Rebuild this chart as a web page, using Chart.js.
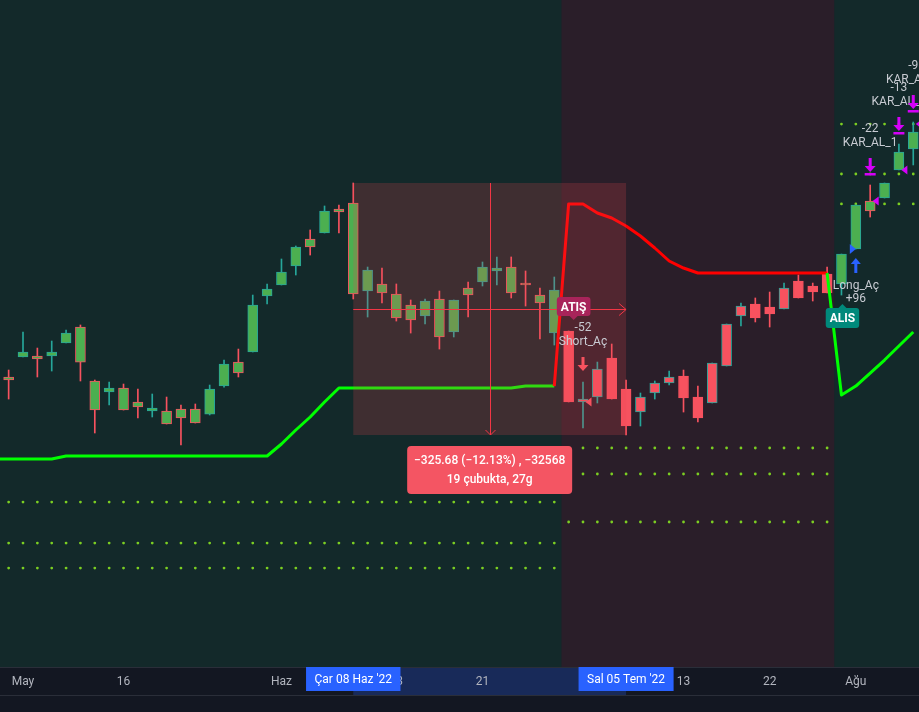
<!DOCTYPE html>
<html><head><meta charset="utf-8">
<script src="https://cdn.jsdelivr.net/npm/chart.js@4.4.0/dist/chart.umd.min.js"></script>
<style>html,body{margin:0;padding:0;background:#131722;overflow:hidden}</style>
</head><body>
<canvas id="c" width="919" height="712"></canvas>
<script>
// ---- data ----
const dates = ['2022-04-28','2022-04-29','2022-05-05','2022-05-06','2022-05-09','2022-05-10','2022-05-11','2022-05-12','2022-05-13','2022-05-16',
'2022-05-17','2022-05-18','2022-05-20','2022-05-23','2022-05-24','2022-05-25','2022-05-26','2022-05-27','2022-05-30','2022-05-31',
'2022-06-01','2022-06-02','2022-06-03','2022-06-06','2022-06-07','2022-06-08','2022-06-09','2022-06-10','2022-06-13','2022-06-14',
'2022-06-15','2022-06-16','2022-06-17','2022-06-20','2022-06-21','2022-06-22','2022-06-23','2022-06-24','2022-06-27','2022-06-28',
'2022-06-29','2022-06-30','2022-07-01','2022-07-04','2022-07-05','2022-07-06','2022-07-07','2022-07-08','2022-07-13','2022-07-14',
'2022-07-18','2022-07-19','2022-07-20','2022-07-21','2022-07-22','2022-07-25','2022-07-26','2022-07-27','2022-07-28','2022-07-29',
'2022-08-01','2022-08-02','2022-08-03','2022-08-04','2022-08-05'];
const openP  = [2461.4,2434.3,2460.1,2461.4,2461.4,2478.2,2498.9,2429.1,2414.9,2420.1,
2402.0,2390.3,2390.3,2392.9,2392.9,2386.4,2422.6,2453.6,2466.6,2539.0,
2553.2,2577.7,2612.6,2620.4,2651.4,2659.1,2545.4,2554.5,2541.5,2527.3,
2513.1,2535.1,2492.4,2549.3,2557.0,2571.3,2576.4,2555.7,2540.2,2491.1,
2493.7,2402.0,2408.4,2458.8,2418.8,2389.0,2413.6,2426.5,2435.6,2408.4,
2400.7,2448.5,2513.1,2528.6,2524.7,2522.2,2558.3,2551.9,2567.4,2554.5,
2599.7,2661.7,2665.6,2701.8,2728.9];
const highP  = [2469.2,2443.3,2492.4,2471.7,2480.8,2495.0,2501.5,2430.4,2427.8,2425.2,
2418.8,2412.3,2408.4,2398.1,2399.4,2423.9,2456.2,2470.4,2540.2,2554.5,
2586.8,2603.6,2624.3,2655.3,2656.6,2685.0,2576.4,2575.1,2554.5,2533.8,
2535.1,2545.4,2533.8,2557.0,2582.9,2589.4,2589.4,2571.3,2549.3,2563.5,
2493.7,2427.8,2453.6,2476.9,2430.4,2413.6,2429.1,2442.0,2443.3,2422.6,
2452.4,2502.8,2529.9,2536.4,2544.1,2555.7,2566.1,2555.7,2576.4,2593.2,
2656.6,2682.4,2685.0,2735.4,2763.8];
const lowP   = [2420.1,2405.8,2460.1,2434.3,2442.0,2478.2,2429.1,2361.9,2398.1,2391.6,
2381.3,2382.6,2373.5,2346.4,2374.8,2385.2,2421.3,2434.3,2466.6,2528.6,
2553.2,2566.1,2591.9,2620.4,2620.4,2535.1,2511.8,2529.9,2506.6,2491.1,
2502.8,2470.4,2486.0,2511.8,2551.9,2553.2,2536.4,2526.0,2483.4,2475.6,
2402.0,2368.4,2400.7,2405.8,2359.32,2370.9,2405.8,2423.9,2389.0,2376.1,
2400.7,2448.5,2500.2,2505.4,2498.9,2522.2,2536.4,2532.5,2542.8,2540.2,
2599.7,2641.0,2665.6,2701.8,2708.3];
const closeP = [2427.8,2430.4,2466.6,2457.5,2466.6,2491.1,2453.6,2391.6,2420.1,2391.6,
2395.5,2394.2,2373.5,2381.3,2374.8,2418.8,2451.1,2439.4,2527.3,2548.0,
2570.0,2602.3,2602.3,2648.8,2647.5,2541.5,2572.5,2542.8,2510.5,2507.9,
2532.5,2486.0,2533.8,2540.2,2576.4,2575.1,2542.8,2553.2,2529.9,2546.7,
2402.0,2405.8,2444.6,2405.8,2370.9,2408.4,2426.5,2434.3,2407.1,2381.3,
2452.4,2502.8,2526.0,2510.5,2515.7,2549.3,2536.4,2544.1,2542.8,2593.2,
2656.6,2648.8,2685.0,2725.1,2750.9];
// trailing-stop indicator
const trendLine = [2328.3,2328.3,2328.3,2328.3,2328.3,2332.2,2332.2,2332.2,2332.2,2332.2,
2332.2,2332.2,2332.2,2332.2,2332.2,2332.2,2332.2,2332.2,2332.2,2332.2,
2347.7,2365.8,2382.6,2402.0,2420.1,2420.1,2420.1,2420.1,2420.1,2420.1,
2420.1,2420.1,2420.1,2420.1,2420.1,2420.1,2420.1,2422.6,2422.6,2422.6,
2657.9,2657.9,2646.2,2639.8,2629.4,2616.5,2601.0,2584.2,2575.1,2568.7,
2568.7,2568.7,2568.7,2568.7,2568.7,2568.7,2568.7,2568.7,2568.7,2411.0,
2422.6,2439.4,2456.2,2474.3,2492.4];
const trendDir = dates.map((d,i)=> (i>=40 && i<=58) ? -1 : 1);
// take-profit levels (dotted)
const tpLevel1 = dates.map((d,i)=> i<=39 ? 2272.7 : (i<=58 ? 2342.5 : 2761.2));
const tpLevel2 = dates.map((d,i)=> i<=39 ? 2219.7 : (i<=58 ? 2308.9 : 2696.6));
const tpLevel3 = dates.map((d,i)=> i<=39 ? 2187.4 : (i<=58 ? 2246.9 : 2657.9));
// axis
const tickDates  = ['2022-05-05','2022-05-16','2022-06-01','2022-06-13','2022-06-21','2022-07-01','2022-07-13','2022-07-22','2022-08-01'];
const tickLabels = ['May','16','Haz','13','21','Tem','13','22','Ağu'];
const shortFrom = '2022-06-29', shortTo = '2022-07-28';
const measureFrom = '2022-06-08', measureTo = '2022-07-05';
const measureText = ['\u2212325.68 (\u221212.13%) , \u221232568', '19 çubukta, 27g'];
const axisBadges = [{date:'2022-06-08', text:"Çar 08 Haz '22"}, {date:'2022-07-05', text:"Sal 05 Tem '22"}];
// strategy signals
const signalLabels = [{date:'2022-06-29', text:'ATIŞ', side:'above'}, {date:'2022-07-29', text:'ALIS', side:'below'}];
const orders = [
  {date:'2022-06-30', type:'sell', id:'Short_Aç', qty:'-52', fill:2402.0},
  {date:'2022-08-01', type:'buy',  id:'Long_Aç',  qty:'+96', fill:2599.7},
  {date:'2022-08-02', type:'exit', id:'KAR_AL_1', qty:'-22', fill:2661.7},
  {date:'2022-08-04', type:'exit', id:'KAR_AL_2', qty:'-13', fill:2701.8},
  {date:'2022-08-05', type:'exit', id:'KAR_AL_3', qty:'-9',  fill:2761.2}
];

// ---- styles ----
const C = {
  bg:'#131722', longBg:'#13292a', shortBg:'#2a1e29', axisLine:'#2a2e39',
  bullBorder:'#26a69a', bearBorder:'#f7525f', longFill:'#4caf50', shortFill:'#f7525f',
  up:'#00ff00', down:'#ff0000', dots:'#7ccf22', text:'#c8cbd2',
  blue:'#2962ff', magenta:'#d500f9', red:'#f7525f'
};
const idx = d => dates.indexOf(d);
const iS = idx(shortFrom), iE = idx(shortTo);
const inShort = i => i>=iS && i<=iE;
const isBull = i => closeP[i] >= openP[i];

const bodyData = dates.map((d,i)=>({x:i, y:[openP[i], closeP[i]]}));
const wickData = dates.map((d,i)=>({x:i, y:[lowP[i], highP[i]]}));
const dotSet = arr => arr.map((v,i)=>({x:i,y:v})).filter(p=>p.x>=1);

function roundRect(ctx,x,y,w,h,r){ctx.beginPath();ctx.moveTo(x+r,y);ctx.lineTo(x+w-r,y);ctx.quadraticCurveTo(x+w,y,x+w,y+r);ctx.lineTo(x+w,y+h-r);ctx.quadraticCurveTo(x+w,y+h,x+w-r,y+h);ctx.lineTo(x+r,y+h);ctx.quadraticCurveTo(x,y+h,x,y+h-r);ctx.lineTo(x,y+r);ctx.quadraticCurveTo(x,y,x+r,y);ctx.closePath();}

const bgPlugin = {
  id:'bg',
  beforeDraw(chart){
    const {ctx, chartArea:a, scales:{x}} = chart;
    ctx.save();
    ctx.fillStyle = C.bg; ctx.fillRect(0,0,chart.width,chart.height);
    ctx.fillStyle = C.longBg; ctx.fillRect(a.left,a.top,a.right-a.left,a.bottom-a.top);
    const x0 = x.getPixelForValue(iS-0.5), x1 = x.getPixelForValue(iE+0.5);
    ctx.fillStyle = C.shortBg; ctx.fillRect(x0,a.top,x1-x0,a.bottom-a.top);
    // axis band for the measured range
    const m0 = x.getPixelForValue(idx(measureFrom)), m1 = x.getPixelForValue(idx(measureTo));
    ctx.fillStyle = 'rgba(41,98,255,0.25)'; ctx.fillRect(m0,a.bottom,m1-m0,28);
    ctx.fillStyle = C.axisLine; ctx.fillRect(0,a.bottom,chart.width,1); ctx.fillRect(0,a.bottom+28,chart.width,1);
    ctx.restore();
  }
};

const overlayPlugin = {
  id:'overlay',
  afterDatasetsDraw(chart){
    const {ctx, chartArea:a, scales:{x,y}} = chart;
    const i0 = idx(measureFrom), i1 = idx(measureTo);
    const X0 = x.getPixelForValue(i0), X1 = x.getPixelForValue(i1);
    const Y0 = y.getPixelForValue(highP[i0]), Y1 = y.getPixelForValue(lowP[i1]);
    ctx.save();
    // measure box
    ctx.fillStyle = 'rgba(242,70,80,0.2)';
    ctx.fillRect(X0,Y0,X1-X0,Y1-Y0);
    ctx.strokeStyle = '#f23645'; ctx.lineWidth = 1;
    const mx = Math.round((X0+X1)/2)+0.5, my = Math.round((Y0+Y1)/2)+0.5;
    ctx.beginPath(); ctx.moveTo(mx,Y0); ctx.lineTo(mx,Y1); ctx.moveTo(mx-5,Y1-5); ctx.lineTo(mx,Y1); ctx.lineTo(mx+5,Y1-5);
    ctx.moveTo(X0,my); ctx.lineTo(X1,my); ctx.moveTo(X1-7,my-6); ctx.lineTo(X1,my); ctx.lineTo(X1-7,my+6); ctx.stroke();
    // measure label
    const lw = 165, lh = 48, lx = (X0+X1)/2 - lw/2, ly = Y1 + 11;
    ctx.fillStyle = '#f45563'; roundRect(ctx,lx,ly,lw,lh,4); ctx.fill();
    ctx.fillStyle = '#ffffff'; ctx.font = '500 12px Roboto'; ctx.textAlign='center'; ctx.textBaseline='middle';
    ctx.fillText(measureText[0], (X0+X1)/2, ly+15);
    ctx.fillText(measureText[1], (X0+X1)/2, ly+34);

    // orders
    ctx.font = '12px Roboto';
    orders.forEach(o=>{
      const i = idx(o.date), px = x.getPixelForValue(i);
      const fy = y.getPixelForValue(o.fill);
      if (o.type==='buy'){
        const top = y.getPixelForValue(lowP[i]) + 9;
        ctx.fillStyle = C.blue;
        ctx.beginPath(); ctx.moveTo(px,top); ctx.lineTo(px+5,top+6); ctx.lineTo(px-5,top+6); ctx.closePath(); ctx.fill();
        ctx.fillRect(px-1.5,top+6,3,9);
        ctx.beginPath(); ctx.moveTo(px,fy); ctx.lineTo(px-6,fy-5); ctx.lineTo(px-6,fy+5); ctx.closePath(); ctx.fill();
        ctx.fillStyle = C.text;
        ctx.fillText(o.id, px, top+28); ctx.fillText(o.qty, px, top+41);
      } else {
        const col = o.type==='sell' ? C.red : C.magenta;
        const hy = y.getPixelForValue(highP[i]);
        const bottom = hy - (o.type==='sell'?10:9);
        const h = o.type==='sell' ? 15 : 18;
        const top = bottom - h;
        ctx.fillStyle = col;
        ctx.fillRect(px-1.5, top, 3, 9);
        ctx.beginPath(); ctx.moveTo(px-5.5,top+8); ctx.lineTo(px+5.5,top+8); ctx.lineTo(px,top+14); ctx.closePath(); ctx.fill();
        if (o.type==='exit') ctx.fillRect(px-5.5, top+15, 11, 2.5);
        ctx.beginPath(); ctx.moveTo(px+2.5,fy); ctx.lineTo(px+8.5,fy-4.5); ctx.lineTo(px+8.5,fy+4.5); ctx.closePath(); ctx.fill();
        ctx.fillStyle = C.text;
        ctx.fillText(o.id, px, top-15); ctx.fillText(o.qty, px, top-29);
      }
    });
    // labels
    signalLabels.forEach(s=>{
      const i = idx(s.date), px = x.getPixelForValue(i);
      ctx.font = 'bold 12px Roboto';
      const w = ctx.measureText(s.text).width + 8, h = 19;
      if (s.side==='above'){
        const bottom = y.getPixelForValue(highP[i]) - 15;
        ctx.fillStyle = '#a8245a';
        roundRect(ctx, px-w/2+5, bottom-h, w, h, 3); ctx.fill();
        ctx.beginPath(); ctx.moveTo(px+1,bottom); ctx.lineTo(px+9,bottom); ctx.lineTo(px+5,bottom+4); ctx.closePath(); ctx.fill();
        ctx.fillStyle = '#ffffff'; ctx.fillText(s.text, px+5, bottom-h/2+1);
      } else {
        const top = y.getPixelForValue(lowP[i]) + 13;
        ctx.fillStyle = '#00897b';
        roundRect(ctx, px-w/2+1, top, w, h+1, 3); ctx.fill();
        ctx.beginPath(); ctx.moveTo(px-3,top); ctx.lineTo(px+5,top); ctx.lineTo(px+1,top-4); ctx.closePath(); ctx.fill();
        ctx.fillStyle = '#ffffff'; ctx.fillText(s.text, px+1, top+h/2+1);
      }
    });
    ctx.restore();
  },
  afterDraw(chart){
    const {ctx, chartArea:a, scales:{x}} = chart;
    ctx.save();
    ctx.font = '12px Roboto'; ctx.textAlign='center'; ctx.textBaseline='middle';
    axisBadges.forEach(b=>{
      const px = x.getPixelForValue(idx(b.date));
      const w = ctx.measureText(b.text).width + 17;
      ctx.fillStyle = C.blue; ctx.fillRect(px-w/2, a.bottom, w, 24);
      ctx.fillStyle = '#ffffff'; ctx.fillText(b.text, px, a.bottom+13);
    });
    ctx.restore();
  }
};

new Chart(document.getElementById('c'), {
  type:'bar',
  data:{ datasets:[
    {type:'line', data:dotSet(tpLevel1), showLine:false, pointRadius:1.4, pointHoverRadius:0, pointBorderWidth:0, pointBackgroundColor:C.dots, order:5},
    {type:'line', data:dotSet(tpLevel2), showLine:false, pointRadius:1.4, pointHoverRadius:0, pointBorderWidth:0, pointBackgroundColor:C.dots, order:5},
    {type:'line', data:dotSet(tpLevel3), showLine:false, pointRadius:1.4, pointHoverRadius:0, pointBorderWidth:0, pointBackgroundColor:C.dots, order:5},
    {type:'bar', data:wickData, grouped:false, barThickness:1, order:3,
      backgroundColor: dates.map((d,i)=> isBull(i)?C.bullBorder:C.bearBorder), borderWidth:0},
    {type:'bar', data:bodyData, grouped:false, barThickness:10, order:2, minBarLength:1,
      backgroundColor: dates.map((d,i)=> inShort(i)?C.shortFill:C.longFill),
      borderColor: dates.map((d,i)=> isBull(i)?C.bullBorder:C.bearBorder), borderWidth:1, borderSkipped:false},
    {type:'line', data:trendLine.map((v,i)=>({x:i,y:v})), borderWidth:3, pointRadius:0, pointHoverRadius:0, tension:0, order:1,
      borderColor:C.up, borderJoinStyle:'round',
      segment:{borderColor: c => trendDir[c.p1DataIndex]>0 ? C.up : C.down}}
  ]},
  options:{
    responsive:false, animation:false, devicePixelRatio:1,
    layout:{autoPadding:false, padding:{left:0,right:0,top:0,bottom:17}},
    plugins:{legend:{display:false}, tooltip:{enabled:false}},
    scales:{
      x:{type:'linear', min:0.398, max:64.4, offset:false,
        grid:{display:false, drawTicks:false}, border:{display:false},
        afterBuildTicks: s => { s.ticks = tickDates.map(d=>({value: idx(d)})); },
        afterFit: s => { s.height = 28; },
        ticks:{autoSkip:false, maxRotation:0, padding:8, color:'#b2b5be', font:{family:'Roboto', size:12},
          callback: v => { const k = tickDates.indexOf(dates[v]); return k>=0 ? tickLabels[k] : ''; }}
      },
      y:{type:'linear', display:false, min:2059.5, max:2921.5}
    }
  },
  plugins:[bgPlugin, overlayPlugin]
});
</script>
</body></html>
